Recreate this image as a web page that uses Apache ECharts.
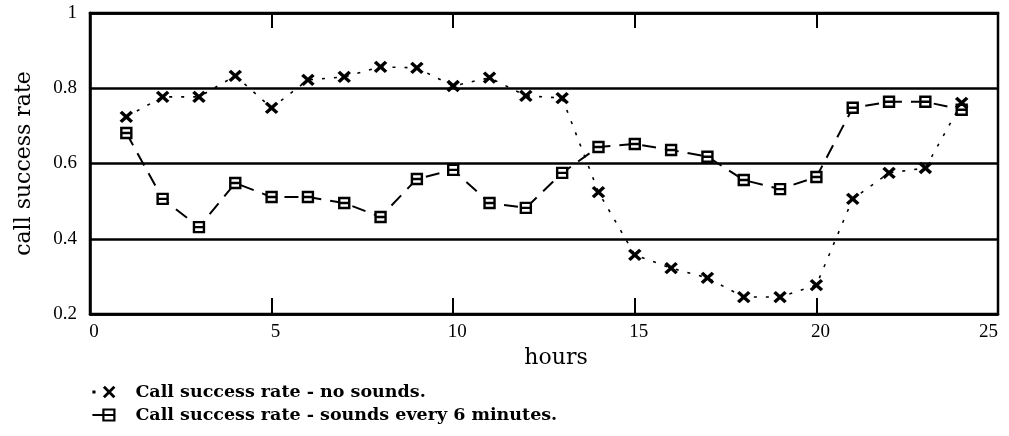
<!DOCTYPE html>
<html>
<head>
<meta charset="utf-8">
<script src="https://cdn.jsdelivr.net/npm/echarts@6/dist/echarts.min.js"></script>
<style>
  html, body { margin: 0; padding: 0; background: #fff; }
  #chart { width: 1009px; height: 436px; }
</style>
</head>
<body>
<div id="chart"></div>
<script>
// Hour of day for each measurement
const hours = [1, 2, 3, 4, 5, 6, 7, 8, 9, 10, 11, 12, 13, 14, 15, 16, 17, 18, 19, 20, 21, 22, 23, 24];

// Call success rate with no sounds
const noSounds = [0.724, 0.777, 0.777, 0.833, 0.748, 0.822, 0.830, 0.857, 0.854, 0.806, 0.828, 0.780,
                  0.774, 0.524, 0.357, 0.322, 0.296, 0.245, 0.245, 0.277, 0.506, 0.575, 0.588, 0.761];

// Call success rate with sounds every 6 minutes
const sounds6 = [0.681, 0.506, 0.431, 0.548, 0.511, 0.511, 0.495, 0.458, 0.559, 0.583, 0.495, 0.482,
                 0.575, 0.644, 0.652, 0.636, 0.618, 0.556, 0.532, 0.564, 0.748, 0.764, 0.764, 0.743];

const seriesNames = ['Call success rate - no sounds.', 'Call success rate - sounds every 6 minutes.'];

const xTicks = { min: 0, max: 25, interval: 5 };
const yTicks = { min: 0.2, max: 1, interval: 0.2 };

// Marker shapes: a bold cross and a box split by a horizontal bar
const crossPath = 'path://M0,0 L10,10 M10,0 L0,10';
const boxPath = 'path://M0,0 L10,0 L10,10 L0,10 Z M0,5 L10,5';
const crossLegend = 'path://M0,6 L3,6 M11,1 L21,11 M21,1 L11,11';
const boxLegend = 'path://M0,6 L10,6 M10,1 L20,1 L20,11 L10,11 Z M10,6 L20,6';

const serif = 'Liberation Serif';
const wideSerif = 'DejaVu Serif';

const chart = echarts.init(document.getElementById('chart'), null, { renderer: 'canvas' });

chart.setOption({
  animation: false,
  backgroundColor: '#fff',
  grid: {
    left: 90, right: 11, top: 13, bottom: 122,
    show: true, borderColor: '#000', borderWidth: 2.5, backgroundColor: 'transparent'
  },
  xAxis: [{
    type: 'value', position: 'bottom',
    min: xTicks.min, max: xTicks.max, interval: xTicks.interval,
    name: 'hours', nameLocation: 'middle', nameGap: 31,
    nameTextStyle: { fontFamily: wideSerif, fontSize: 22, color: '#000', padding: [0, 0, 0, 24] },
    axisLine: { show: true, lineStyle: { color: '#000', width: 2.5 } },
    axisTick: { show: true, inside: true, length: 16, lineStyle: { color: '#000', width: 2 } },
    axisLabel: { fontFamily: serif, fontSize: 19, color: '#000', margin: 9, padding: [0, 0, 0, 8], alignMaxLabel: 'right' },
    splitLine: { show: false }
  }, {
    type: 'value', position: 'top',
    min: xTicks.min, max: xTicks.max, interval: xTicks.interval,
    axisLine: { show: true, lineStyle: { color: '#000', width: 2.5 } },
    axisTick: { show: true, inside: true, length: 15, lineStyle: { color: '#000', width: 2 } },
    axisLabel: { show: false },
    splitLine: { show: false }
  }],
  yAxis: {
    type: 'value',
    min: yTicks.min, max: yTicks.max, interval: yTicks.interval,
    name: 'call success rate', nameLocation: 'middle', nameGap: 55, nameRotate: 90,
    nameTextStyle: { fontFamily: wideSerif, fontSize: 22, color: '#000' },
    axisLine: { show: true, lineStyle: { color: '#000', width: 2.5 } },
    axisTick: { show: false },
    axisLabel: {
      fontFamily: serif, fontSize: 19, color: '#000', margin: 13,
      formatter: v => String(Math.round(v * 10) / 10)
    },
    splitLine: { show: true, lineStyle: { color: '#000', width: 2.5 } }
  },
  legend: {
    orient: 'vertical', left: 86, top: 378, itemGap: 5,
    itemWidth: 22, itemHeight: 12,
    textStyle: { fontFamily: wideSerif, fontSize: 17.5, fontWeight: 'bold', color: '#000', padding: [0, 0, 0, 16] },
    data: [
      { name: seriesNames[0], icon: crossLegend, itemStyle: { color: 'transparent', borderColor: '#000', borderWidth: 2.8 } },
      { name: seriesNames[1], icon: boxLegend, itemStyle: { color: 'transparent', borderColor: '#000', borderWidth: 2.2 } }
    ]
  },
  series: [{
    name: seriesNames[0],
    type: 'line',
    data: hours.map((h, i) => [h, noSounds[i]]),
    symbol: crossPath, symbolSize: [11, 10],
    itemStyle: { color: 'transparent', borderColor: '#000', borderWidth: 3.4 },
    lineStyle: { color: '#000', width: 1.6, type: [3, 9] },
    z: 3
  }, {
    name: seriesNames[1],
    type: 'line',
    data: hours.map((h, i) => [h, sounds6[i]]),
    symbol: boxPath, symbolSize: [10, 10],
    itemStyle: { color: '#fff', borderColor: '#000', borderWidth: 2.4 },
    lineStyle: { color: '#000', width: 2, type: [14, 9] },
    z: 2
  }]
});
</script>
</body>
</html>
